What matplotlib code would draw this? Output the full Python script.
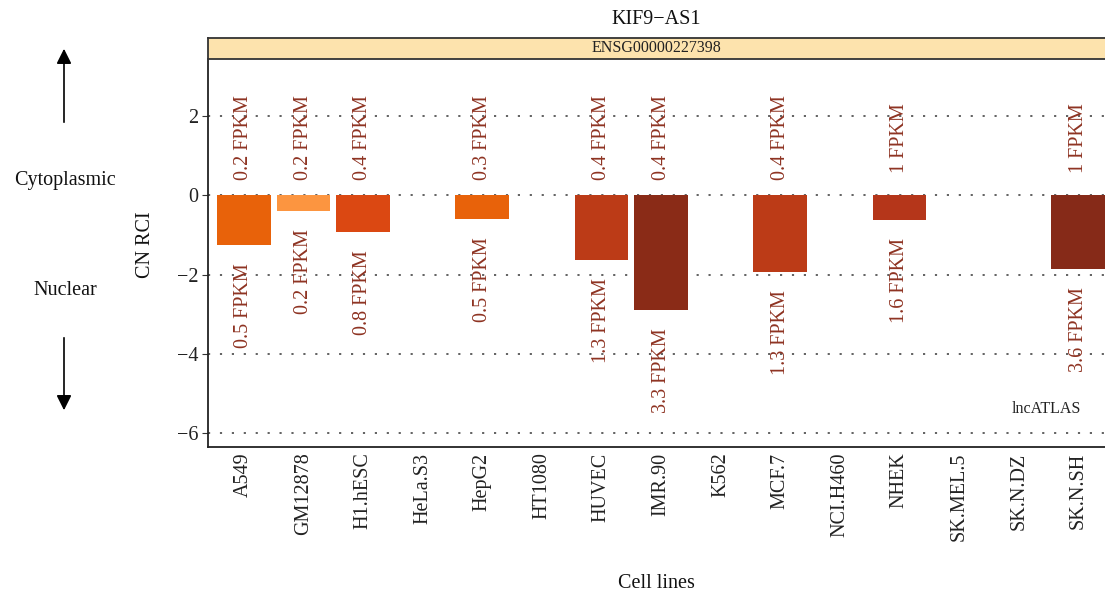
import matplotlib
matplotlib.use("Agg")
import matplotlib.pyplot as plt

plt.rcParams['font.family'] = ['Liberation Serif', 'DejaVu Serif']

cell_lines = ["A549", "GM12878", "H1.hESC", "HeLa.S3", "HepG2", "HT1080", "HUVEC",
              "IMR.90", "K562", "MCF.7", "NCI.H460", "NHEK", "SK.MEL.5", "SK.N.DZ", "SK.N.SH"]
rci = [-1.26, -0.40, -0.93, None, -0.60, None, -1.63, -2.90, None, -1.94, None, -0.62, None, None, -1.86]
cyto_fpkm = ["0.2", "0.2", "0.4", None, "0.3", None, "0.4", "0.4", None, "0.4", None, "1", None, None, "1"]
nuc_fpkm = ["0.5", "0.2", "0.8", None, "0.5", None, "1.3", "3.3", None, "1.3", None, "1.6", None, None, "3.6"]
bar_colors = ["#E8620A", "#FC9540", "#DB4812", None, "#E8620A", None, "#BC3B17", "#8A2B17",
              None, "#BC3B17", None, "#B5361A", None, None, "#862A18"]
yticks = [-6, -4, -2, 0, 2]

W, H = 1105, 594
fig = plt.figure(figsize=(W / 100, H / 100), dpi=100)

def fx(px):
    return px / W

def fy(py):
    return 1 - py / H

ax = fig.add_axes([fx(208), fy(447), fx(1114) - fx(208), fy(59) - fy(447)])
ax.set_xlim(0.4, len(cell_lines) + 0.6)
ax.set_ylim(-6.34, 3.43)

for y in yticks:
    ax.axhline(y, color="#555555", lw=1.3, ls=(0, (1.2, 5.4)), zorder=0)

label_color = "#8E3322"
fs = 14.5
for i, (name, v) in enumerate(zip(cell_lines, rci)):
    x = i + 1
    if v is None:
        continue
    ax.bar(x, v, width=0.9, color=bar_colors[i], zorder=2)
    ax.text(x, 1.45, f"{cyto_fpkm[i]} FPKM", rotation=90, ha="center", va="center",
            color=label_color, fontsize=fs, zorder=3)
    ax.text(x, v - 1.52, f"{nuc_fpkm[i]} FPKM", rotation=90, ha="center", va="center",
            color=label_color, fontsize=fs, zorder=3)

ax.text(fx(1081 - 208) / (fx(1114) - fx(208)), (-5.38 + 6.34) / (3.43 + 6.34), "lncATLAS",
        transform=ax.transAxes, ha="right", va="center", fontsize=11.5, color="#222222")

ax.set_xticks(range(1, len(cell_lines) + 1))
ax.set_xticklabels(cell_lines, rotation=90, fontsize=fs, color="#222222")
ax.tick_params(axis="x", length=0, pad=4)
ax.set_yticks(yticks)
ax.set_yticklabels([f"\u2212{abs(t)}" if t < 0 else str(t) for t in yticks], fontsize=fs, color="#222222")
ax.tick_params(axis="y", length=4, width=0.8, color="#333333", pad=3)
for s in ["left", "bottom"]:
    ax.spines[s].set_linewidth(1.3)
    ax.spines[s].set_color("#222222")
for s in ["top", "right"]:
    ax.spines[s].set_visible(False)

# strip
sax = fig.add_axes([fx(208), fy(59), fx(1114) - fx(208), fy(38) - fy(59)])
sax.set_xticks([])
sax.set_yticks([])
sax.set_facecolor("#FDE3AD")
for s in sax.spines.values():
    s.set_linewidth(1.3)
    s.set_color("#333333")
sax.text(fx(656 - 208) / (fx(1114) - fx(208)), 0.5, "ENSG00000227398", transform=sax.transAxes,
         ha="center", va="center", fontsize=11.5, color="#222222")

fig.text(fx(656), fy(20), "KIF9\u2212AS1", ha="center", va="center", fontsize=fs, color="#111111")
fig.text(fx(656), fy(583), "Cell lines", ha="center", va="center", fontsize=fs, color="#111111")
fig.text(fx(145), fy(245), "CN RCI", rotation=90, ha="center", va="center", fontsize=fs, color="#111111")
fig.text(fx(65), fy(181), "Cytoplasmic", ha="center", va="center", fontsize=fs, color="#111111")
fig.text(fx(65), fy(291), "Nuclear", ha="center", va="center", fontsize=fs, color="#111111")

fig.patches.append(matplotlib.patches.FancyArrowPatch(
    (fx(64), fy(125)), (fx(64), fy(46)), transform=fig.transFigure,
    arrowstyle="-|>,head_length=6,head_width=3", color="black", lw=1.2, mutation_scale=1.5))
fig.patches.append(matplotlib.patches.FancyArrowPatch(
    (fx(64), fy(335)), (fx(64), fy(413)), transform=fig.transFigure,
    arrowstyle="-|>,head_length=6,head_width=3", color="black", lw=1.2, mutation_scale=1.5))

fig.savefig("out.png", dpi=100)
